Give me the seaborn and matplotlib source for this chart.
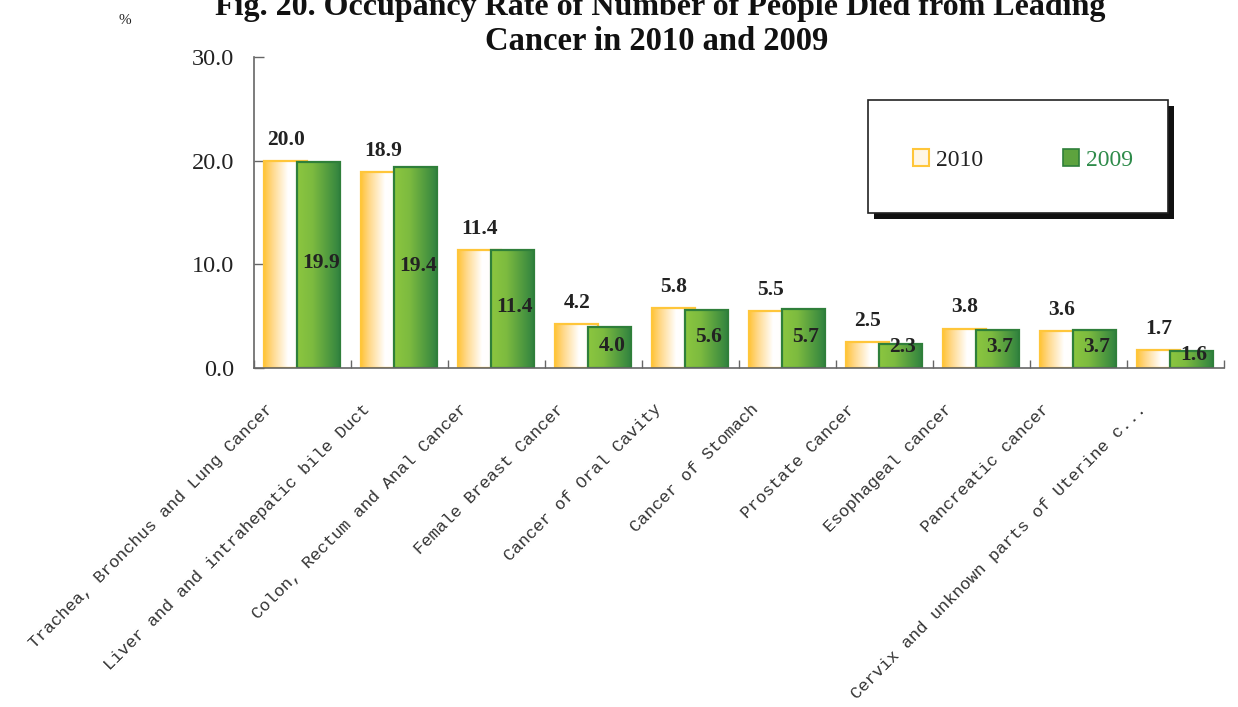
import numpy as np
import pandas as pd
import matplotlib
matplotlib.use('Agg')
import matplotlib.pyplot as plt
import seaborn as sns
from matplotlib.colors import LinearSegmentedColormap
from matplotlib.patches import Rectangle, Patch
from matplotlib.ticker import FormatStrFormatter

# ---------------- data ----------------
categories = [
    "Trachea, Bronchus and Lung Cancer",
    "Liver and and intrahepatic bile Duct",
    "Colon, Rectum and Anal Cancer",
    "Female Breast Cancer",
    "Cancer of Oral Cavity",
    "Cancer of Stomach",
    "Prostate Cancer",
    "Esophageal cancer",
    "Pancreatic cancer",
    "Cervix and unknown parts of Uterine c...",
]
values_2010 = [20.0, 18.9, 11.4, 4.2, 5.8, 5.5, 2.5, 3.8, 3.6, 1.7]
values_2009 = [19.9, 19.4, 11.4, 4.0, 5.6, 5.7, 2.3, 3.7, 3.7, 1.6]
years = ["2010", "2009"]
y_ticks = [0, 10, 20, 30]
title_lines = ["Fig. 20. Occupancy Rate of Number of People Died from Leading",
               "Cancer in 2010 and 2009"]

df = pd.DataFrame({
    "category": categories * 2,
    "year": [years[0]] * len(categories) + [years[1]] * len(categories),
    "value": values_2010 + values_2009,
})

# ---------------- style ----------------
sns.set_theme(style="white")
plt.rcParams['font.family'] = ['Liberation Serif', 'DejaVu Serif']

fig = plt.figure(figsize=(12.38, 7.07), dpi=100)
ax = fig.add_axes([254 / 1238, 1 - 368 / 707, 970 / 1238, 311 / 707])

sns.barplot(data=df, x="category", y="value", hue="year", hue_order=years,
            order=categories, palette=["#FFC63A", "#5DA33E"], dodge=True,
            legend=False, errorbar=None, saturation=1, ax=ax)

cmap10 = LinearSegmentedColormap.from_list(
    "g10", [(0, "#FFC43A"), (0.2, "#FFD98C"), (0.55, "#FFFFFF"), (0.8, "#FFFDFB"), (1, "#FDEBD6")])
cmap09 = LinearSegmentedColormap.from_list(
    "g09", [(0, "#8CC63F"), (0.35, "#7DBB3F"), (1, "#2E8140")])
grad = np.linspace(0, 1, 256).reshape(1, -1)

half_w = 0.2225
off10, off09 = -0.173, 0.169
for p in list(ax.patches):
    cx = p.get_x() + p.get_width() / 2
    idx = int(round(cx))
    h = p.get_height()
    is2010 = cx < idx
    c = idx + (off10 if is2010 else off09)
    x0, x1 = c - half_w, c + half_w
    p.set_x(x0)
    p.set_width(2 * half_w)
    z = 2 if is2010 else 3
    im = ax.imshow(grad, cmap=cmap10 if is2010 else cmap09,
                   extent=[x0, x1, 0, h], aspect="auto", zorder=z,
                   interpolation="bilinear")
    im.set_clip_path(p)
    p.set_facecolor("none")
    p.set_edgecolor("#FFC63A" if is2010 else "#2F7F3A")
    p.set_linewidth(1.6)
    p.set_zorder(z + 0.1)

ax.set_xlim(-0.5, len(categories) - 0.5)
ax.set_ylim(0, 30)
ax.set_xlabel("")
ax.set_ylabel("")

# y axis
ax.set_yticks(y_ticks)
ax.yaxis.set_major_formatter(FormatStrFormatter("%.1f"))
ax.tick_params(axis="y", left=True, direction="in", length=7, width=1,
               color="#666666", pad=14, labelsize=17.5, labelcolor="#222222")

# x axis: boundary ticks + shifted labels
ax.set_xticks(np.arange(-0.5, len(categories), 1.0))
ax.set_xticklabels([])
ax.set_xticks(np.arange(len(categories)) - 0.38, minor=True)
ax.set_xticklabels(categories, minor=True, rotation=45, ha="right", va="top",
                   rotation_mode="anchor", fontsize=12.3,
                   family=["Liberation Mono", "DejaVu Sans Mono"], color="#333333")
ax.tick_params(axis="x", which="major", bottom=True, direction="in", length=6,
               width=1, color="#666666")
ax.tick_params(axis="x", which="minor", bottom=True, length=0, pad=24)

for s in ["top", "right"]:
    ax.spines[s].set_visible(False)
for s in ["left", "bottom"]:
    ax.spines[s].set_color("#666666")
    ax.spines[s].set_linewidth(1.2)
    ax.spines[s].set_zorder(5)

# value labels
for i, v in enumerate(values_2010):
    ax.annotate(f"{v:.1f}", (i + off10, v), xytext=(0, 8), textcoords="offset points",
                ha="center", va="bottom", fontsize=15.5, fontweight="bold",
                color="#222222", zorder=6)
for i, v in enumerate(values_2009):
    ypos = max(v / 2 + 0.15, min(v - 0.3, 2.0))
    ax.text(i + off09 + 0.02, ypos, f"{v:.1f}", ha="center", va="center", fontsize=15.5,
            fontweight="bold", color="#222222", zorder=6)

# legend box with shadow
bx, by, bw, bh = (868 - 254) / 970, (368 - 213) / 311, 300 / 970, 113 / 311
ax.add_patch(Rectangle((bx + 6 / 970, by - 6 / 311), bw, bh, transform=ax.transAxes,
                       facecolor="#111111", edgecolor="none", zorder=7, clip_on=False))
ax.add_patch(Rectangle((bx, by), bw, bh, transform=ax.transAxes, facecolor="white",
                       edgecolor="#222222", linewidth=1.2, zorder=8, clip_on=False))
handles = [Patch(facecolor="#FFF6E6", edgecolor="#FFC63A", linewidth=1.5),
           Patch(facecolor="#5DA33E", edgecolor="#2F7F3A", linewidth=1.2)]
leg = ax.legend(handles, years, loc="center",
                bbox_to_anchor=((1023 - 254) / 970, (368 - 160) / 311),
                ncol=2, frameon=False, fontsize=17, handlelength=0.68,
                handleheight=0.68, handletextpad=0.3, columnspacing=3.4,
                labelcolor=["#222222", "#2E8B4A"])
leg.set_zorder(9)

# title (two lines, as in the reference) and unit
fig.text(660 / 1238, 1 - 15 / 707, title_lines[0], ha="center", va="baseline",
         fontsize=23, fontweight="bold", color="#111111")
fig.text(657 / 1238, 1 - 50 / 707, title_lines[1], ha="center", va="baseline",
         fontsize=23.5, fontweight="bold", color="#111111")
fig.text(125 / 1238, 1 - 21 / 707, "%", ha="center", va="center", fontsize=11,
         color="#222222")

fig.savefig("out.png", dpi=100)
